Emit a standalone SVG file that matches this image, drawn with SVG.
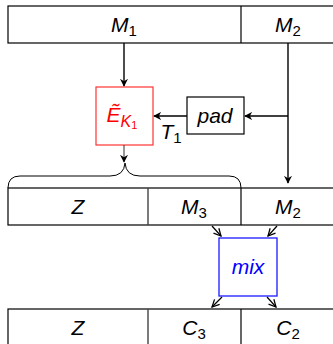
<svg xmlns="http://www.w3.org/2000/svg" width="333" height="344" viewBox="0 0 333 344">
<style>
text{font-family:"Liberation Sans",Arial,sans-serif;font-style:italic;font-size:21px;fill:#000;text-anchor:middle}
.sub{font-size:15px;font-style:normal}
.cell{fill:#fff;stroke:#000;stroke-width:1.2}
.ln{fill:none;stroke:#000;stroke-width:1.4}
</style>
<defs>
<marker id="ah" viewBox="0 0 10 10" refX="9" refY="5" markerWidth="8" markerHeight="8" orient="auto" markerUnits="userSpaceOnUse">
<path d="M0,0 L10,5 L0,10 L3,5 Z" fill="#000"/>
</marker>
<marker id="oh" viewBox="0 0 10 10" refX="9" refY="5" markerWidth="9" markerHeight="9" orient="auto" markerUnits="userSpaceOnUse">
<path d="M1,1 L9,5 L1,9" fill="none" stroke="#000" stroke-width="1.4"/>
</marker>
</defs>
<g id="row1">
<rect class="cell" x="8" y="6" width="330" height="37"/>
<line x1="241" y1="6" x2="241" y2="43" stroke="#000" stroke-width="1.2"/>
<text x="124" y="32">M<tspan class="sub" dy="4">1</tspan></text>
<text x="288" y="32">M<tspan class="sub" dy="4">2</tspan></text>
</g>
<g id="E">
<rect x="96" y="87" width="57" height="58" fill="#fff" stroke="#ff3333" stroke-width="1.2"/>
<text x="122" y="122" style="fill:#ff0000">Ẽ<tspan style="font-size:16px" dy="5">K</tspan><tspan style="font-size:11px;font-style:normal" dy="2">1</tspan></text>
</g>
<g id="pad">
<rect x="187" y="97" width="57" height="37" fill="#fff" stroke="#000" stroke-width="1.2"/>
<text x="215" y="123">pad</text>
</g>
<g id="T1label">
<text x="171" y="139">T<tspan class="sub" dy="4">1</tspan></text>
</g>
<g id="row2">
<rect class="cell" x="8" y="188" width="330" height="37"/>
<line x1="148" y1="188" x2="148" y2="225" stroke="#444" stroke-width="1.4"/>
<line x1="241" y1="188" x2="241" y2="225" stroke="#000" stroke-width="1.2"/>
<text x="78" y="214">Z</text>
<text x="194" y="214">M<tspan class="sub" dy="4">3</tspan></text>
<text x="288" y="214">M<tspan class="sub" dy="4">2</tspan></text>
</g>
<g id="mix">
<rect x="219" y="238" width="58" height="58" fill="#fff" stroke="#1a1aff" stroke-width="1.3"/>
<text x="248" y="274" style="fill:#0000ff">mix</text>
</g>
<g id="row3">
<rect class="cell" x="8" y="309" width="330" height="45"/>
<line x1="148" y1="309" x2="148" y2="350" stroke="#444" stroke-width="1.4"/>
<line x1="241" y1="309" x2="241" y2="350" stroke="#000" stroke-width="1.2"/>
<text x="78" y="335">Z</text>
<text x="194" y="335">C<tspan class="sub" dy="4">3</tspan></text>
<text x="288" y="335">C<tspan class="sub" dy="4">2</tspan></text>
</g>
<g id="connectors">
<line class="ln" x1="124" y1="43" x2="124" y2="86" marker-end="url(#ah)"/>
<polyline class="ln" points="288,43 288,183" marker-end="url(#ah)"/>
<line class="ln" x1="288" y1="116" x2="245" y2="116" marker-end="url(#ah)"/>
<line class="ln" x1="187" y1="116" x2="154" y2="116" marker-end="url(#ah)"/>
<line x1="124" y1="145" x2="124" y2="162" stroke="#333" stroke-width="1" marker-end="url(#ah)"/>
<path d="M8,188 Q8,176 20,176 L110,176 Q124,176 125,163 Q126,176 140,176 L229,176 Q241,176 241,188" fill="none" stroke="#000" stroke-width="1"/>
<line x1="212" y1="226" x2="221" y2="236" stroke="#000" stroke-width="1.2" marker-end="url(#oh)"/>
<line x1="277" y1="226" x2="268" y2="236" stroke="#000" stroke-width="1.2" marker-end="url(#oh)"/>
<line x1="222" y1="297" x2="212" y2="307" stroke="#000" stroke-width="1.2" marker-end="url(#oh)"/>
<line x1="267" y1="297" x2="276" y2="307" stroke="#000" stroke-width="1.2" marker-end="url(#oh)"/>
</g>
</svg>
